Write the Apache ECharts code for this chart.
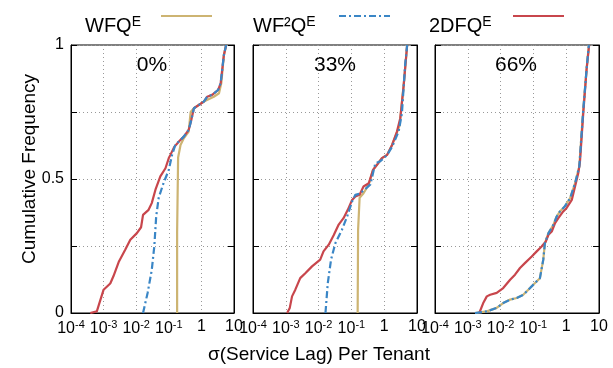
<!DOCTYPE html>
<html><head><meta charset="utf-8">
<script src="https://cdn.jsdelivr.net/npm/echarts@6/dist/echarts.min.js"></script>
<style>html,body{margin:0;padding:0;background:#fff}#c{width:613px;height:368px}</style>
</head><body><div id="c"></div>
<script>
// ---- Data (x = sigma of service lag, y = cumulative frequency) ----
const panelTitles = ['0%', '33%', '66%'];
const seriesNames = ['WFQE', 'WF2QE', '2DFQE'];
const xTickExponents = ['-4', '-3', '-2', '-1'];

// Panel 0%
const p0_wfq_x  = [0.18, 0.18, 0.193, 0.229, 0.288, 0.407, 0.468, 0.589, 1.19, 2.40, 3.47, 4.07, 4.90, 5.75];
const p0_wfq_y  = [0, 0.30, 0.58, 0.627, 0.652, 0.677, 0.75, 0.764, 0.789, 0.807, 0.82, 0.857, 0.963, 1.0];
const p0_wf2q_x = [0.0162, 0.0224, 0.030, 0.036, 0.041, 0.049, 0.069, 0.100, 0.126, 0.158, 0.229, 0.288, 0.407, 0.49, 0.589, 0.83, 1.19, 1.51, 2.14, 3.24, 3.89, 4.90, 5.75];
const p0_wf2q_y = [0, 0.075, 0.16, 0.25, 0.36, 0.43, 0.485, 0.534, 0.59, 0.627, 0.646, 0.658, 0.683, 0.72, 0.764, 0.776, 0.789, 0.807, 0.814, 0.832, 0.857, 0.963, 1.0];
const p0_2dfq_x = [0.00039, 0.00062, 0.0010, 0.0016, 0.0020, 0.0029, 0.0046, 0.0066, 0.0105, 0.0141, 0.0162, 0.024, 0.030, 0.039, 0.055, 0.079, 0.100, 0.112, 0.148, 0.204, 0.288, 0.407, 0.49, 0.589, 0.83, 1.19, 1.51, 2.14, 3.24, 3.89, 4.90, 5.75];
const p0_2dfq_y = [0, 0.006, 0.087, 0.11, 0.137, 0.19, 0.236, 0.273, 0.298, 0.32, 0.366, 0.385, 0.41, 0.46, 0.51, 0.54, 0.578, 0.59, 0.62, 0.64, 0.658, 0.683, 0.72, 0.764, 0.776, 0.789, 0.807, 0.814, 0.832, 0.857, 0.963, 1.0];

// Panel 33%
const p1_wfq_x  = [0.155, 0.16, 0.178, 0.234, 0.339, 0.457, 0.603, 0.851, 1.23, 1.74, 2.29, 2.95, 3.89, 5.01];
const p1_wfq_y  = [0, 0.31, 0.43, 0.447, 0.48, 0.534, 0.553, 0.578, 0.59, 0.627, 0.665, 0.70, 0.845, 1.0];
const p1_wf2q_x = [0.0162, 0.019, 0.024, 0.0324, 0.0513, 0.0741, 0.105, 0.132, 0.178, 0.251, 0.38, 0.537, 0.76, 1.23, 1.74, 2.75, 3.47, 4.37, 5.01];
const p1_wf2q_y = [0, 0.11, 0.2, 0.26, 0.31, 0.36, 0.416, 0.441, 0.445, 0.46, 0.48, 0.559, 0.566, 0.59, 0.62, 0.677, 0.745, 0.93, 1.0];
const p1_2dfq_x = [0.0011, 0.00132, 0.00155, 0.00195, 0.00275, 0.0040, 0.0063, 0.0112, 0.0141, 0.0204, 0.0288, 0.041, 0.0575, 0.0776, 0.105, 0.132, 0.178, 0.234, 0.339, 0.457, 0.603, 0.851, 1.23, 1.74, 2.45, 3.09, 3.89, 5.01];
const p1_2dfq_y = [0, 0.019, 0.062, 0.087, 0.13, 0.149, 0.174, 0.199, 0.23, 0.255, 0.29, 0.33, 0.354, 0.385, 0.422, 0.435, 0.441, 0.472, 0.484, 0.534, 0.553, 0.578, 0.59, 0.627, 0.677, 0.727, 0.845, 1.0];

// Panel 66%
const p2_wfq_x  = [0.00166, 0.0038, 0.0076, 0.012, 0.0195, 0.031, 0.049, 0.079, 0.112, 0.158, 0.20, 0.224, 0.288, 0.407, 0.513, 0.646, 0.912, 1.32, 1.86, 2.51, 3.31, 4.17, 4.90];
const p2_wfq_y  = [0, 0.006, 0.019, 0.037, 0.05, 0.056, 0.068, 0.093, 0.112, 0.13, 0.199, 0.26, 0.298, 0.329, 0.36, 0.379, 0.398, 0.429, 0.484, 0.547, 0.758, 0.907, 1.0];
const p2_wf2q_x = [0.00166, 0.0038, 0.0076, 0.012, 0.0195, 0.031, 0.049, 0.079, 0.112, 0.158, 0.20, 0.224, 0.288, 0.407, 0.513, 0.646, 0.912, 1.32, 1.86, 2.51, 3.31, 4.17, 4.90];
const p2_wf2q_y = [0, 0.006, 0.019, 0.037, 0.05, 0.056, 0.068, 0.093, 0.112, 0.13, 0.199, 0.26, 0.298, 0.329, 0.36, 0.379, 0.398, 0.429, 0.484, 0.547, 0.758, 0.907, 1.0];
const p2_2dfq_x = [0.00224, 0.00295, 0.0038, 0.0048, 0.0076, 0.012, 0.0195, 0.0275, 0.039, 0.055, 0.089, 0.126, 0.178, 0.24, 0.288, 0.363, 0.457, 0.575, 0.813, 1.02, 1.48, 1.86, 2.34, 2.63, 3.31, 4.17, 5.01];
const p2_2dfq_y = [0, 0.037, 0.062, 0.068, 0.075, 0.093, 0.124, 0.143, 0.168, 0.186, 0.211, 0.23, 0.248, 0.267, 0.292, 0.304, 0.335, 0.354, 0.379, 0.391, 0.422, 0.472, 0.522, 0.565, 0.745, 0.907, 1.0];

// ---- Build chart ----
const zip = (xs, ys) => xs.map((x, i) => [x, ys[i]]);
const panels = [
  { wfq: zip(p0_wfq_x, p0_wfq_y), wf2q: zip(p0_wf2q_x, p0_wf2q_y), dfq: zip(p0_2dfq_x, p0_2dfq_y) },
  { wfq: zip(p1_wfq_x, p1_wfq_y), wf2q: zip(p1_wf2q_x, p1_wf2q_y), dfq: zip(p1_2dfq_x, p1_2dfq_y) },
  { wfq: zip(p2_wfq_x, p2_wfq_y), wf2q: zip(p2_wf2q_x, p2_wf2q_y), dfq: zip(p2_2dfq_x, p2_2dfq_y) }
];

const COL_WFQ = '#cdb472', COL_WF2Q = '#3a86c6', COL_2DFQ = '#c8464c';
const FONT = 'Liberation Sans, Arial, sans-serif';
const gridLeft = [71, 253, 435];
const gridW = [163, 164, 164];

const grids = [], xAxes = [], yAxes = [], series = [];
for (let i = 0; i < 3; i++) {
  grids.push({ left: gridLeft[i], top: 45, width: gridW[i], height: 268, show: true, borderColor: '#000', borderWidth: 1, containLabel: false });
  xAxes.push({
    type: 'log', logBase: 10, min: 0.0001, max: 10, gridIndex: i,
    axisLine: { lineStyle: { color: '#000', width: 1 } },
    axisTick: { show: false },
    splitLine: { show: true, lineStyle: { color: '#999', type: [1, 3], width: 1 } },
    axisLabel: {
      margin: 6, color: '#000', fontFamily: FONT,
      formatter: v => {
        const e = Math.round(Math.log10(v));
        if (e < 0) return '{b|10}{s|' + xTickExponents[e + 4] + '}';
        return '{b|' + (e === 0 ? '1' : '10') + '}';
      },
      rich: {
        b: { fontSize: 16, fontFamily: FONT, color: '#000' },
        s: { fontSize: 11, fontFamily: FONT, color: '#000', verticalAlign: 'top', padding: [0, 0, 9, 0] }
      }
    }
  });
  yAxes.push({
    type: 'value', min: 0, max: 1, interval: 0.25, gridIndex: i, position: 'left',
    axisLine: { show: true, lineStyle: { color: '#000' } },
    axisTick: { show: true, inside: true, length: 6, lineStyle: { color: '#000' } },
    splitLine: { show: true, lineStyle: { color: '#999', type: [1, 3] } },
    axisLabel: {
      show: i === 0, margin: 7, fontSize: 16, color: '#000', fontFamily: FONT,
      formatter: v => (v === 0 ? '0' : v === 0.5 ? '0.5' : v === 1 ? '1' : '')
    }
  });
  yAxes.push({
    type: 'value', min: 0, max: 1, interval: 0.25, gridIndex: i, position: 'right',
    axisLine: { show: true, lineStyle: { color: '#000' } },
    axisTick: { show: true, inside: true, length: 6, lineStyle: { color: '#000' } },
    splitLine: { show: false }, axisLabel: { show: false }
  });
  const common = { type: 'line', xAxisIndex: i, yAxisIndex: 2 * i, symbol: 'none', showSymbol: false, animation: false, silent: true };
  series.push(Object.assign({}, common, { name: 'WFQE', data: panels[i].wfq, lineStyle: { color: COL_WFQ, width: 2.2 }, itemStyle: { color: COL_WFQ } }));
  series.push(Object.assign({}, common, { name: '2DFQE', data: panels[i].dfq, lineStyle: { color: COL_2DFQ, width: 2.2 }, itemStyle: { color: COL_2DFQ } }));
  series.push(Object.assign({}, common, { name: 'WF2QE', data: panels[i].wf2q, lineStyle: { color: COL_WF2Q, width: 2.2, type: [7, 3, 2, 3] }, itemStyle: { color: COL_WF2Q } }));
}

// Legend: line samples from the legend component, labels as rich text graphics
const legendLabel = ['{a|WFQ}{e|E}', '{a|WF²Q}{e|E}', '{a|2DFQ}{e|E}'];
const legendRich = {
  a: { fontSize: 20, fontFamily: FONT, fill: '#000', color: '#000' },
  e: { fontSize: 14, fontFamily: FONT, fill: '#000', color: '#000', verticalAlign: 'top', padding: [0, 0, 8, 0] }
};
const legendTextLeft = [85, 253, 429];
const legendLineLeft = [160, 338, 512];
const legends = seriesNames.map((n, k) => ({
  data: [n], left: legendLineLeft[k], top: 9, orient: 'horizontal', padding: 0,
  itemWidth: 51, itemHeight: 14, selectedMode: false,
  itemStyle: { color: 'rgba(0,0,0,0)', borderColor: 'rgba(0,0,0,0)', borderWidth: 0 },
  formatter: () => '',
  textStyle: { fontSize: 1 }
}));

const titleX = [152, 335, 516];
const graphics = panelTitles.map((t, i) => ({
  type: 'text',
  style: { text: t, x: titleX[i], y: 65, fontSize: 21, fontFamily: FONT, fill: '#000', textAlign: 'center', textVerticalAlign: 'middle' }
}));
legendLabel.forEach((t, k) => graphics.push({
  type: 'text',
  style: { text: t, x: legendTextLeft[k], y: 26, rich: legendRich, fontFamily: FONT, fill: '#000', textAlign: 'left', textVerticalAlign: 'middle' }
}));
graphics.push({ type: 'text', style: { text: 'σ(Service Lag) Per Tenant', x: 319, y: 355, fontSize: 19, fontFamily: FONT, fill: '#000', textAlign: 'center', textVerticalAlign: 'middle' } });
graphics.push({ type: 'text', x: 30, y: 169, rotation: Math.PI / 2, style: { text: 'Cumulative Frequency', x: 0, y: 0, fontSize: 19, fontFamily: FONT, fill: '#000', textAlign: 'center', textVerticalAlign: 'middle' } });

const chart = echarts.init(document.getElementById('c'), null, { renderer: 'canvas' });
chart.setOption({
  backgroundColor: '#fff', animation: false,
  legend: legends, grid: grids, xAxis: xAxes, yAxis: yAxes, series: series, graphic: graphics
});
</script></body></html>
